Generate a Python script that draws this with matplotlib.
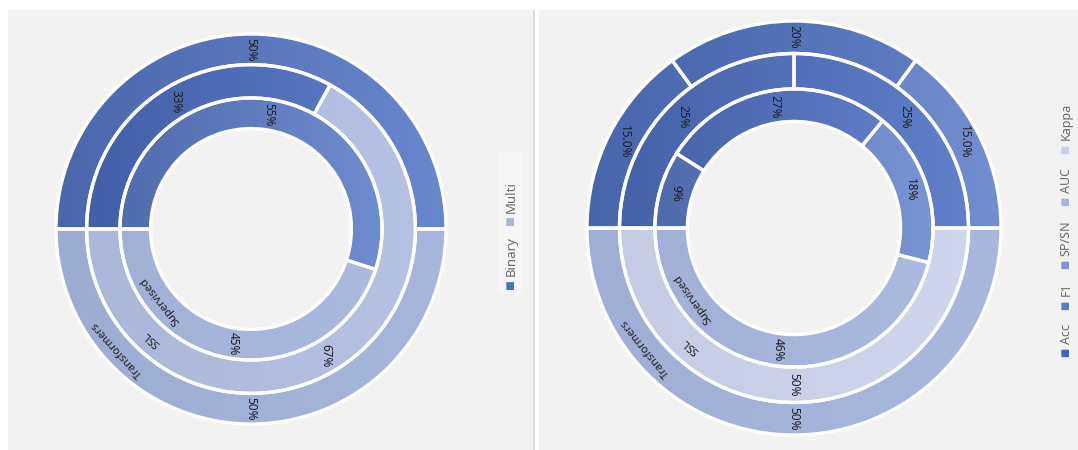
import numpy as np
import matplotlib.pyplot as plt
from matplotlib.colors import to_rgb
from matplotlib.patches import Rectangle

plt.rcParams['font.family'] = ['Noto Sans', 'DejaVu Sans']

# ring names, inner -> outer
ring_names = ['Supervised', 'SSL', 'Transformers']

# left chart: Binary / Multi
left_legend = ['Binary', 'Multi']
left_legend_colors = ['#4a6fc2', '#a9b7df']
left_sup = [55, 45]
left_ssl = [33, 67]
left_trans = [50, 50]
left_sup_lbl = ['55%', '45%']
left_ssl_lbl = ['33%', '67%']
left_trans_lbl = ['50%', '50%']
left_sup_col = ['#5d7ec9', '#a9b7df']
left_ssl_col = ['#4b6fc2', '#b3bfe3']
left_trans_col = ['#5678c7', '#a4b3dc']
left_name_angles = [218, 228, 222]

# right chart: metrics
right_legend = ['Acc', 'F1', 'SP/SN', 'AUC', 'Kappa']
right_legend_colors = ['#3f64b8', '#5a7bc6', '#7b95d2', '#a6b5de', '#c9d1ea']
right_sup = [9, 27, 18, 46]
right_ssl = [25, 25, 50]
right_trans = [15, 20, 15, 50]
right_sup_lbl = ['9%', '27%', '18%', '46%']
right_ssl_lbl = ['25%', '25%', '50%']
right_trans_lbl = ['15.0%', '20%', '15.0%', '50%']
right_sup_col = ['#5b7cc8', '#5073c4', '#6787cd', '#a9b7df']
right_ssl_col = ['#4f72c3', '#4c70c2', '#cdd4ec']
right_trans_col = ['#5276c6', '#5073c3', '#5f80ca', '#a7b5de']
right_name_angles = [215, 229, 219]

radii = [0.515, 0.672, 0.843, 1.0]


def grad_img(c):
    c = np.array(to_rgb(c))
    s = 0.04 if c.mean() > 0.7 else 0.14
    t = np.linspace(0, 1, 200)[None, :, None]
    dark = c * (1 - s)
    light = c + (1 - c) * s * 0.8
    return dark * (1 - t) + light * t


def donut(ax, rings, labels, colors, name_angles):
    for i, (vals, lbls, cols) in enumerate(zip(rings, labels, colors)):
        r_in, r_out = radii[i], radii[i + 1]
        wedges, _ = ax.pie(vals, radius=r_out, startangle=180, counterclock=False,
                           colors=cols,
                           wedgeprops=dict(width=r_out - r_in, edgecolor='white', linewidth=2.4))
        for k, (w, c) in enumerate(zip(wedges, cols)):
            im = ax.imshow(grad_img(c), extent=(-r_out, r_out, -r_out, r_out),
                           aspect='auto', interpolation='bilinear', zorder=2)
            im.set_clip_path(w)
            w.set_facecolor('none')
            w.set_zorder(3)
            mid = np.deg2rad((w.theta1 + w.theta2) / 2)
            rm = (r_in + r_out) / 2
            ax.text(rm * np.cos(mid), rm * np.sin(mid), lbls[k],
                    rotation=-90, ha='center', va='center', fontsize=8.5,
                    color='#1f1f1f', zorder=4)
        a = np.deg2rad(name_angles[i])
        rm = (r_in + r_out) / 2
        ax.text(rm * np.cos(a), rm * np.sin(a), ring_names[i], rotation=name_angles[i] - 90,
                ha='center', va='center', fontsize=8, color='#1f1f1f', zorder=4)
    ax.set_xlim(-1, 1)
    ax.set_ylim(-1, 1)
    ax.set_aspect('auto')
    ax.axis('off')


def vlegend(fig, x, y0, names, colors, fs=9, gap=14):
    r = fig.canvas.get_renderer()
    y = y0
    H = fig.bbox.height
    for n, c in zip(names, colors):
        t = fig.text(x, y, '■', color=c, rotation=90, fontsize=fs - 2, ha='center', va='bottom')
        y += t.get_window_extent(r).height / H + 4 / H
        t2 = fig.text(x, y, n, color='#6b6b6b', rotation=90, fontsize=fs, ha='center', va='bottom')
        y += t2.get_window_extent(r).height / H + gap / H


fig = plt.figure(figsize=(10.78, 4.5), dpi=100)
fig.patch.set_facecolor('white')

# panel backgrounds
for (x0, w, col) in [(8, 525, '#f2f2f2'), (539, 539, '#f2f2f2'), (533, 2, '#dddddd')]:
    fig.patches.append(Rectangle((x0 / 1078, 0), w / 1078, 440 / 450, transform=fig.transFigure,
                                 facecolor=col, edgecolor='none', zorder=-5))
fig.patches.append(Rectangle((499 / 1078, 156 / 450), 24 / 1078, 142 / 450, transform=fig.transFigure,
                             facecolor='#f6f6f6', edgecolor='none', zorder=-4))

ax1 = fig.add_axes([56 / 1078, 26 / 450, 390 / 1078, 390 / 450])
ax1.patch.set_alpha(0)
donut(ax1, [left_sup, left_ssl, left_trans],
      [left_sup_lbl, left_ssl_lbl, left_trans_lbl],
      [left_sup_col, left_ssl_col, left_trans_col], left_name_angles)

ax2 = fig.add_axes([587 / 1078, 15 / 450, 414 / 1078, 414 / 450])
ax2.patch.set_alpha(0)
donut(ax2, [right_sup, right_ssl, right_trans],
      [right_sup_lbl, right_ssl_lbl, right_trans_lbl],
      [right_sup_col, right_ssl_col, right_trans_col], right_name_angles)

vlegend(fig, 511 / 1078, 160 / 450, left_legend, left_legend_colors, fs=9.5, gap=10)
vlegend(fig, 1066 / 1078, 93 / 450, right_legend, right_legend_colors)

fig.savefig('out.png', dpi=100)
